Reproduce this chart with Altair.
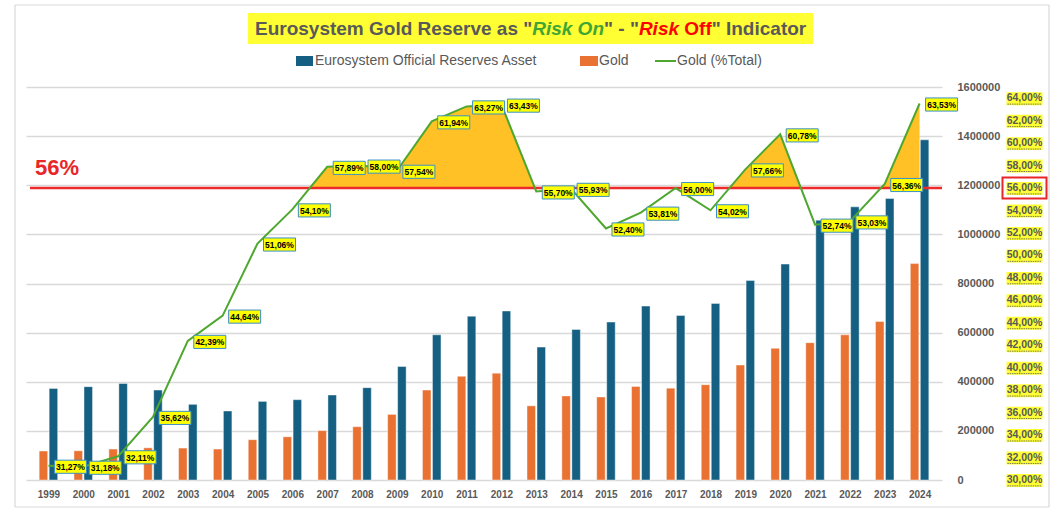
import altair as alt
import pandas as pd

# ---------------- data ----------------
years = list(range(1999, 2025))
reserves = [373000, 380000, 393000, 366000, 308000, 281000, 320000, 327000, 346000, 376000,
            462000, 591000, 667000, 688000, 541000, 613000, 643000, 708000, 670000, 719000,
            812000, 879000, 1058000, 1112000, 1146000, 1385000]
gold = [118000, 119000, 126000, 131000, 130000, 126000, 164000, 176000, 201000, 217000,
        267000, 366000, 422000, 435000, 302000, 342000, 338000, 381000, 374000, 388000,
        468000, 536000, 559000, 591000, 645000, 881000]
gold_pct = [31.27, 31.18, 32.11, 35.62, 42.39, 44.64, 51.06, 54.10, 57.89, 58.00,
            57.54, 61.94, 63.27, 63.43, 55.70, 55.93, 52.40, 53.81, 56.00, 54.02,
            57.66, 60.78, 52.74, 53.03, 56.36, 63.53]
threshold = 56
count_ticks = [0, 200000, 400000, 600000, 800000, 1000000, 1200000, 1400000, 1600000]
pct_ticks = [30, 32, 34, 36, 38, 40, 42, 44, 46, 48, 50, 52, 54, 56, 58, 60, 62, 64]

series_names = ["Eurosystem Official Reserves Asset", "Gold", "Gold (%Total)"]
title_parts = ['Eurosystem Gold Reserve as "', 'Risk On', '" - "', 'Risk', 'Off', '" Indicator']

def fmt_pct(v):
    return f"{v:.2f}".replace(".", ",") + "%"

df = pd.DataFrame({"year": years, "reserves": reserves, "gold": gold, "pct": gold_pct})
df["label"] = [fmt_pct(v) for v in gold_pct]

# area above threshold (with exact crossing points)
pts = []
for i in range(len(years)):
    if i > 0:
        p0, p1 = gold_pct[i - 1], gold_pct[i]
        if (p0 - threshold) * (p1 - threshold) < 0:
            t = (threshold - p0) / (p1 - p0)
            pts.append((years[i - 1] + t, threshold))
    pts.append((years[i], max(gold_pct[i], threshold)))
area_df = pd.DataFrame(pts, columns=["year", "top"])
area_df["base"] = threshold

tick_df = pd.DataFrame({"t": pct_ticks, "label": [fmt_pct(t) for t in pct_ticks]})
one = pd.DataFrame({"a": [0]})
thr_df = pd.DataFrame({"t": [threshold]})

# ---------------- styling ----------------
W, H = 916, 393
GRAY = "#595959"
BLUE = "#156082"
ORANGE = "#E97132"
GREEN = "#4EA72E"
FONT = "Liberation Sans"

xscale = alt.Scale(domain=[1998.5, 2024.5], nice=False, zero=False)
xaxis = alt.Axis(values=years, format="d", title=None, ticks=False, domain=False, grid=False,
                 labelFontSize=10, labelFontWeight="bold", labelColor=GRAY, labelPadding=9,
                 labelFlush=False, labelFont=FONT)
X = alt.X("year:Q", scale=xscale, axis=xaxis)

cscale = alt.Scale(domain=[0, 1600000], nice=False)
caxis = alt.Axis(orient="right", values=count_ticks, format="d", title=None, ticks=False,
                 domain=False, grid=True, gridColor="#D9D9D9", gridWidth=1.3,
                 labelAlign="left", labelPadding=15, labelFontSize=11, labelFontWeight="bold",
                 labelColor=GRAY, labelFont=FONT)
pscale = alt.Scale(domain=[30, 65], nice=False, zero=False)

# ---------------- layers ----------------
frame = alt.Chart(one).mark_rect(fillOpacity=0, stroke="#D9D9D9", strokeWidth=1.2).encode(
    x=alt.value(-11), x2=alt.value(1023), y=alt.value(-82), y2=alt.value(420))

blue = alt.Chart(df).mark_bar(width=8.5, xOffset=5, color=BLUE, stroke="white",
                              strokeWidth=0.6, strokeOpacity=0.7).encode(
    x=X, y=alt.Y("reserves:Q", scale=cscale, axis=caxis))
orange = alt.Chart(df).mark_bar(width=8.5, xOffset=-5, color=ORANGE, stroke="white",
                                strokeWidth=0.6, strokeOpacity=0.7).encode(
    x=X, y=alt.Y("gold:Q", scale=cscale, axis=None))

area = alt.Chart(area_df).mark_area(color="#FFC125", opacity=1).encode(
    x=X, y=alt.Y("top:Q", scale=pscale, axis=None), y2="base:Q")

rule = alt.Chart(thr_df).mark_rule(color="#EE2A2A", strokeWidth=2.5).encode(
    y=alt.Y("t:Q", scale=pscale, axis=None), x=alt.value(4), x2=alt.value(W))

thr_text = alt.Chart(thr_df).mark_text(align="left", baseline="middle", dy=-20, fontSize=22,
                                       fontWeight="bold", color="#E8262A", font=FONT,
                                       text=f"{threshold}%").encode(
    y=alt.Y("t:Q", scale=pscale, axis=None), x=alt.value(9))

line = alt.Chart(df).mark_line(color=GREEN, strokeWidth=2).encode(
    x=X, y=alt.Y("pct:Q", scale=pscale, axis=None))

box_path = "M-1,-0.41H1V0.41H-1Z"
lab_box = alt.Chart(df).mark_point(shape=box_path, size=1024, filled=True, fill="#FFFF00",
                                   fillOpacity=1, opacity=1, stroke="#3A8FC8", strokeWidth=1,
                                   xOffset=22, yOffset=1).encode(
    x=X, y=alt.Y("pct:Q", scale=pscale, axis=None))
lab_text = alt.Chart(df).mark_text(align="center", baseline="middle", dx=22, dy=1.5,
                                   fontSize=8.5, fontWeight="bold", color="black", font=FONT).encode(
    x=X, y=alt.Y("pct:Q", scale=pscale, axis=None), text="label:N")

# right percent axis (highlighted labels)
PX = 998.5
hl = alt.Chart(tick_df).mark_point(shape="M-1,-0.36H1V0.36H-1Z", size=1296, filled=True,
                                   fill="#FFFF33", fillOpacity=1, opacity=1, strokeWidth=0,
                                   yOffset=0.5).encode(
    y=alt.Y("t:Q", scale=pscale, axis=None), x=alt.value(PX))
ul = alt.Chart(tick_df).mark_point(shape="M-0.95,0.3H0.95", size=1296, filled=False,
                                   stroke=GRAY, strokeWidth=0.8, opacity=1, strokeDash=[1.5, 0.8],
                                   yOffset=0.5).encode(
    y=alt.Y("t:Q", scale=pscale, axis=None), x=alt.value(PX))
ptxt = alt.Chart(tick_df).mark_text(align="center", baseline="middle", fontSize=10.5,
                                    fontWeight="bold", color=GRAY, font=FONT).encode(
    y=alt.Y("t:Q", scale=pscale, axis=None), x=alt.value(PX), text="label:N")
redbox = alt.Chart(thr_df).mark_point(shape="M-1,-0.48H1V0.48H-1Z", size=1936, filled=False,
                                      stroke="#E8262A", strokeWidth=2, opacity=1).encode(
    y=alt.Y("t:Q", scale=pscale, axis=None), x=alt.value(PX))

# title
title_bg = alt.Chart(one).mark_rect(color="#FFFF33").encode(
    x=alt.value(222), x2=alt.value(787), y=alt.value(-74), y2=alt.value(-43))
title_specs = [
    (title_parts[0], 229.0, GRAY, "normal"),
    (title_parts[1], 506.2, "#3FA535", "italic"),
    (title_parts[2], 578.0, GRAY, "normal"),
    (title_parts[3], 612.9, "#FF0000", "italic"),
    (title_parts[4], 658.3, "#FF0000", "normal"),
    (title_parts[5], 685.7, GRAY, "normal"),
]
title_layers = [
    alt.Chart(one).mark_text(text=t, align="left", baseline="middle", fontSize=19,
                             fontWeight="bold", fontStyle=st, color=c, font=FONT).encode(
        x=alt.value(xp), y=alt.value(-58))
    for t, xp, c, st in title_specs
]

# legend
leg = [
    alt.Chart(one).mark_rect(color=BLUE).encode(
        x=alt.value(270), x2=alt.value(287), y=alt.value(-31), y2=alt.value(-21)),
    alt.Chart(one).mark_text(text=series_names[0], align="left", baseline="middle", fontSize=14,
                             color=GRAY, font=FONT).encode(x=alt.value(289), y=alt.value(-26)),
    alt.Chart(one).mark_rect(color=ORANGE).encode(
        x=alt.value(554), x2=alt.value(572), y=alt.value(-31), y2=alt.value(-21)),
    alt.Chart(one).mark_text(text=series_names[1], align="left", baseline="middle", fontSize=14,
                             color=GRAY, font=FONT).encode(x=alt.value(573), y=alt.value(-26)),
    alt.Chart(one).mark_rule(color=GREEN, strokeWidth=2).encode(
        x=alt.value(629), x2=alt.value(650), y=alt.value(-26)),
    alt.Chart(one).mark_text(text=series_names[2], align="left", baseline="middle", fontSize=14,
                             color=GRAY, font=FONT).encode(x=alt.value(651), y=alt.value(-26)),
]

chart = alt.layer(
    frame, blue, orange, area, rule, thr_text, line, lab_box, lab_text,
    hl, ul, ptxt, redbox, title_bg, *title_layers, *leg
).resolve_scale(y="independent").properties(
    width=W, height=H,
    autosize=alt.AutoSizeParams(type="none"),
    padding={"left": 26, "top": 87, "right": 116, "bottom": 36},
    background="white",
).configure_view(strokeWidth=0)

chart.save("out.html", embed_options={"renderer": "svg", "actions": False})
